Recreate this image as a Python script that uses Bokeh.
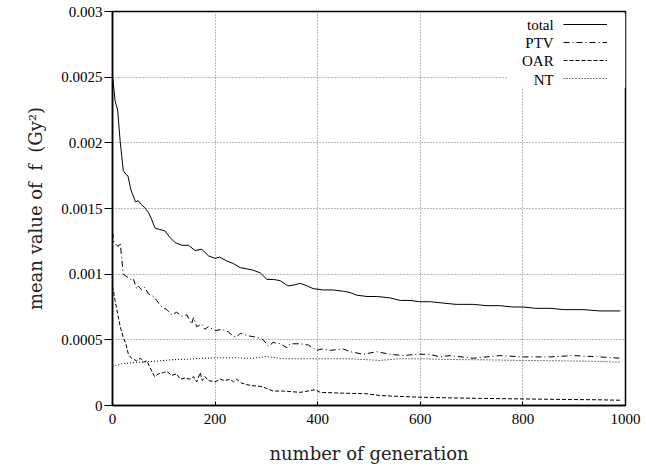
from bokeh.plotting import figure
from bokeh.models import FixedTicker, Legend, LegendItem, Label, BoxAnnotation
from bokeh.embed import file_html
from bokeh.resources import INLINE

# ---------------- data ----------------
gen_total = [0, 3, 5, 10, 15, 21, 26, 30, 36, 45, 50, 56, 62, 70, 76, 83, 92, 102, 112, 122,
             135, 148, 161, 174, 187, 200, 209, 223, 236, 249, 262, 274, 288, 301, 314, 327, 342, 356, 366, 380,
             391, 410, 430, 450, 463, 476, 496, 515, 540, 561, 580, 599, 620, 644, 670, 703, 730, 755, 780, 800,
             825, 853, 880, 917, 950, 990]
f_total = [0.00251, 0.00240, 0.00232, 0.00225, 0.00201, 0.00179, 0.00176, 0.00175, 0.00164, 0.00155,
           0.00156, 0.00153, 0.00151, 0.00147, 0.00142, 0.00135, 0.00134, 0.00133, 0.00128, 0.00124,
           0.00122, 0.00122, 0.00118, 0.00119, 0.00114, 0.00112, 0.00113, 0.00110, 0.00108, 0.00105,
           0.00104, 0.00103, 0.00101, 0.00096, 0.00096, 0.00095, 0.00091, 0.00092, 0.00093, 0.00091,
           0.00089, 0.00088, 0.00088, 0.00087, 0.00086, 0.00084, 0.00083, 0.00083, 0.00082, 0.00080,
           0.00080, 0.00079, 0.00079, 0.00078, 0.00077, 0.00077, 0.00076, 0.00076, 0.00075, 0.00075,
           0.00074, 0.00074, 0.00073, 0.00073, 0.00072, 0.00072]

gen_ptv = [0, 3, 8, 11, 15, 21, 28, 34, 37, 41, 47, 50, 57, 63, 70, 80, 86, 96, 106, 115,
           125, 135, 145, 154, 158, 164, 174, 180, 187, 200, 213, 226, 235, 242, 249, 265, 281, 294, 304, 313,
           327, 340, 346, 366, 382, 398, 408, 424, 450, 463, 489, 515, 541, 567, 593, 619, 638, 658, 703, 755,
           801, 853, 898, 950, 990]
f_ptv = [0.00132, 0.00124, 0.00122, 0.00121, 0.00124, 0.00100, 0.00098, 0.00097, 0.00095, 0.00096,
         0.00089, 0.00091, 0.00088, 0.00090, 0.00085, 0.00083, 0.00080, 0.00075, 0.00073, 0.00069,
         0.00071, 0.00068, 0.00069, 0.00062, 0.00067, 0.00060, 0.00062, 0.00058, 0.00060, 0.00057,
         0.00058, 0.00056, 0.00053, 0.00052, 0.00055, 0.00053, 0.00052, 0.00050, 0.00045, 0.00048,
         0.00047, 0.00044, 0.00047, 0.00047, 0.00046, 0.00042, 0.00043, 0.00042, 0.00043, 0.00041,
         0.00039, 0.00041, 0.00039, 0.00038, 0.00039, 0.00039, 0.00037, 0.00038, 0.00036, 0.00038,
         0.00037, 0.00037, 0.00038, 0.00037, 0.00036]

gen_oar = [0, 5, 10, 15, 21, 26, 31, 37, 47, 54, 60, 67, 73, 82, 89, 99, 106, 115, 125, 132,
           141, 151, 158, 164, 171, 175, 180, 187, 200, 210, 219, 229, 236, 242, 252, 271, 281, 294, 313, 333,
           366, 395, 405, 450, 496, 521, 560, 599, 658, 720, 801, 880, 940, 990]
f_oar = [0.00091, 0.00080, 0.00070, 0.00060, 0.00052, 0.00047, 0.00039, 0.00036, 0.00034, 0.00036,
         0.00033, 0.00034, 0.00029, 0.00022, 0.00024, 0.00025, 0.00026, 0.00023, 0.00024, 0.00020,
         0.00021, 0.00020, 0.00022, 0.00018, 0.00025, 0.00019, 0.00022, 0.00019, 0.00018, 0.00020,
         0.00019, 0.00020, 0.00018, 0.00020, 0.00017, 0.00015, 0.00015, 0.00014, 0.00011, 0.00011,
         0.00010, 0.00012, 0.00010, 0.000094, 0.000089, 0.000076, 0.000069, 0.000063, 0.000058, 0.000054,
         0.000050, 0.000046, 0.000044, 0.000040]

gen_nt = [0, 18, 50, 83, 115, 148, 180, 213, 245, 268, 291, 300, 333, 398, 463, 521, 560, 606, 658, 720,
          801, 880, 940, 990]
f_nt = [0.000297, 0.000317, 0.000330, 0.000337, 0.000348, 0.000353, 0.000360, 0.000363, 0.000363, 0.000358,
        0.000368, 0.000373, 0.000356, 0.000356, 0.000356, 0.000343, 0.000356, 0.000356, 0.000350, 0.000348,
        0.000343, 0.000340, 0.000336, 0.000330]

series_names = ["total", "PTV", "OAR", "NT"]
x_ticks = [0, 200, 400, 600, 800, 1000]
y_ticks = [0, 0.0005, 0.001, 0.0015, 0.002, 0.0025, 0.003]
y_tick_labels = ["0", "0.0005", "0.001", "0.0015", "0.002", "0.0025", "0.003"]

# ---------------- styling ----------------
TICK_FONT = "Liberation Serif"
LABEL_FONT = "DejaVu Serif"
dashes = ["solid", "6 3 1 3", "4 2", "1 2"]

p = figure(width=646, height=466, x_range=(0, 1000), y_range=(0, 0.003),
           output_backend="svg", toolbar_location=None,
           min_border_left=112, min_border_right=21, min_border_top=11, min_border_bottom=61)

p.outline_line_color = "black"
p.outline_line_width = 1.5
p.background_fill_color = "white"
p.border_fill_color = "white"

for ax in (p.xaxis[0], p.yaxis[0]):
    ax.axis_line_color = "black"
    ax.axis_line_width = 1.5
    ax.major_tick_line_color = "black"
    ax.major_tick_line_width = 1
    ax.minor_tick_line_color = None
    ax.major_label_text_font = TICK_FONT
    ax.major_label_text_font_size = "15px"
    ax.major_label_text_color = "black"
    ax.axis_label_text_font = LABEL_FONT
    ax.axis_label_text_font_size = "18px"
    ax.axis_label_text_font_style = "normal"
    ax.axis_label_text_color = "#222222"

p.xaxis[0].ticker = FixedTicker(ticks=x_ticks)
p.xaxis[0].major_tick_in = 4
p.xaxis[0].major_tick_out = 0
p.xaxis[0].major_label_standoff = 8
p.xaxis[0].axis_label = "number of generation"
p.xaxis[0].axis_label_standoff = 16

p.yaxis[0].ticker = FixedTicker(ticks=y_ticks)
p.yaxis[0].major_label_overrides = dict(zip(y_ticks, y_tick_labels))
p.yaxis[0].major_tick_in = 0
p.yaxis[0].major_tick_out = 8
p.yaxis[0].major_label_standoff = 2
p.yaxis[0].axis_label = "mean value of\u00a0 f\u00a0 (Gy²)"
p.yaxis[0].axis_label_standoff = 12

for g in (p.xgrid[0], p.ygrid[0]):
    g.grid_line_color = "#777777"
    g.grid_line_dash = "1 2"
    g.grid_line_width = 1

xs = [gen_total, gen_ptv, gen_oar, gen_nt]
ys = [f_total, f_ptv, f_oar, f_nt]
renderers = []
for x, y, d in zip(xs, ys, dashes):
    r = p.line(x, y, line_color="black", line_width=1, line_dash=d)
    renderers.append(r)

# opaque key box (hides grid behind the key)
key_box = BoxAnnotation(left=771, right=1000, top=0.002985, bottom=0.00242,
                        fill_color="white", fill_alpha=1, line_color=None)
p.add_layout(key_box)

legend = Legend(items=[LegendItem(label=" ", renderers=[r]) for r in renderers],
                location=(451, 318), orientation="vertical",
                glyph_width=44, glyph_height=18, label_width=0, label_height=18,
                label_standoff=0, padding=0, margin=0, spacing=0,
                border_line_color=None, background_fill_alpha=0,
                label_text_font_size="1px")
p.add_layout(legend)

key_text_x = 860
key_text_y = [0.00290, 0.00276, 0.00262, 0.00248]
for name, ky in zip(series_names, key_text_y):
    p.add_layout(Label(x=key_text_x, y=ky, text=name, text_align="right", text_baseline="middle",
                       text_font=TICK_FONT, text_font_size="15px", text_color="black"))

open("out.html", "w").write(file_html(p, INLINE))
